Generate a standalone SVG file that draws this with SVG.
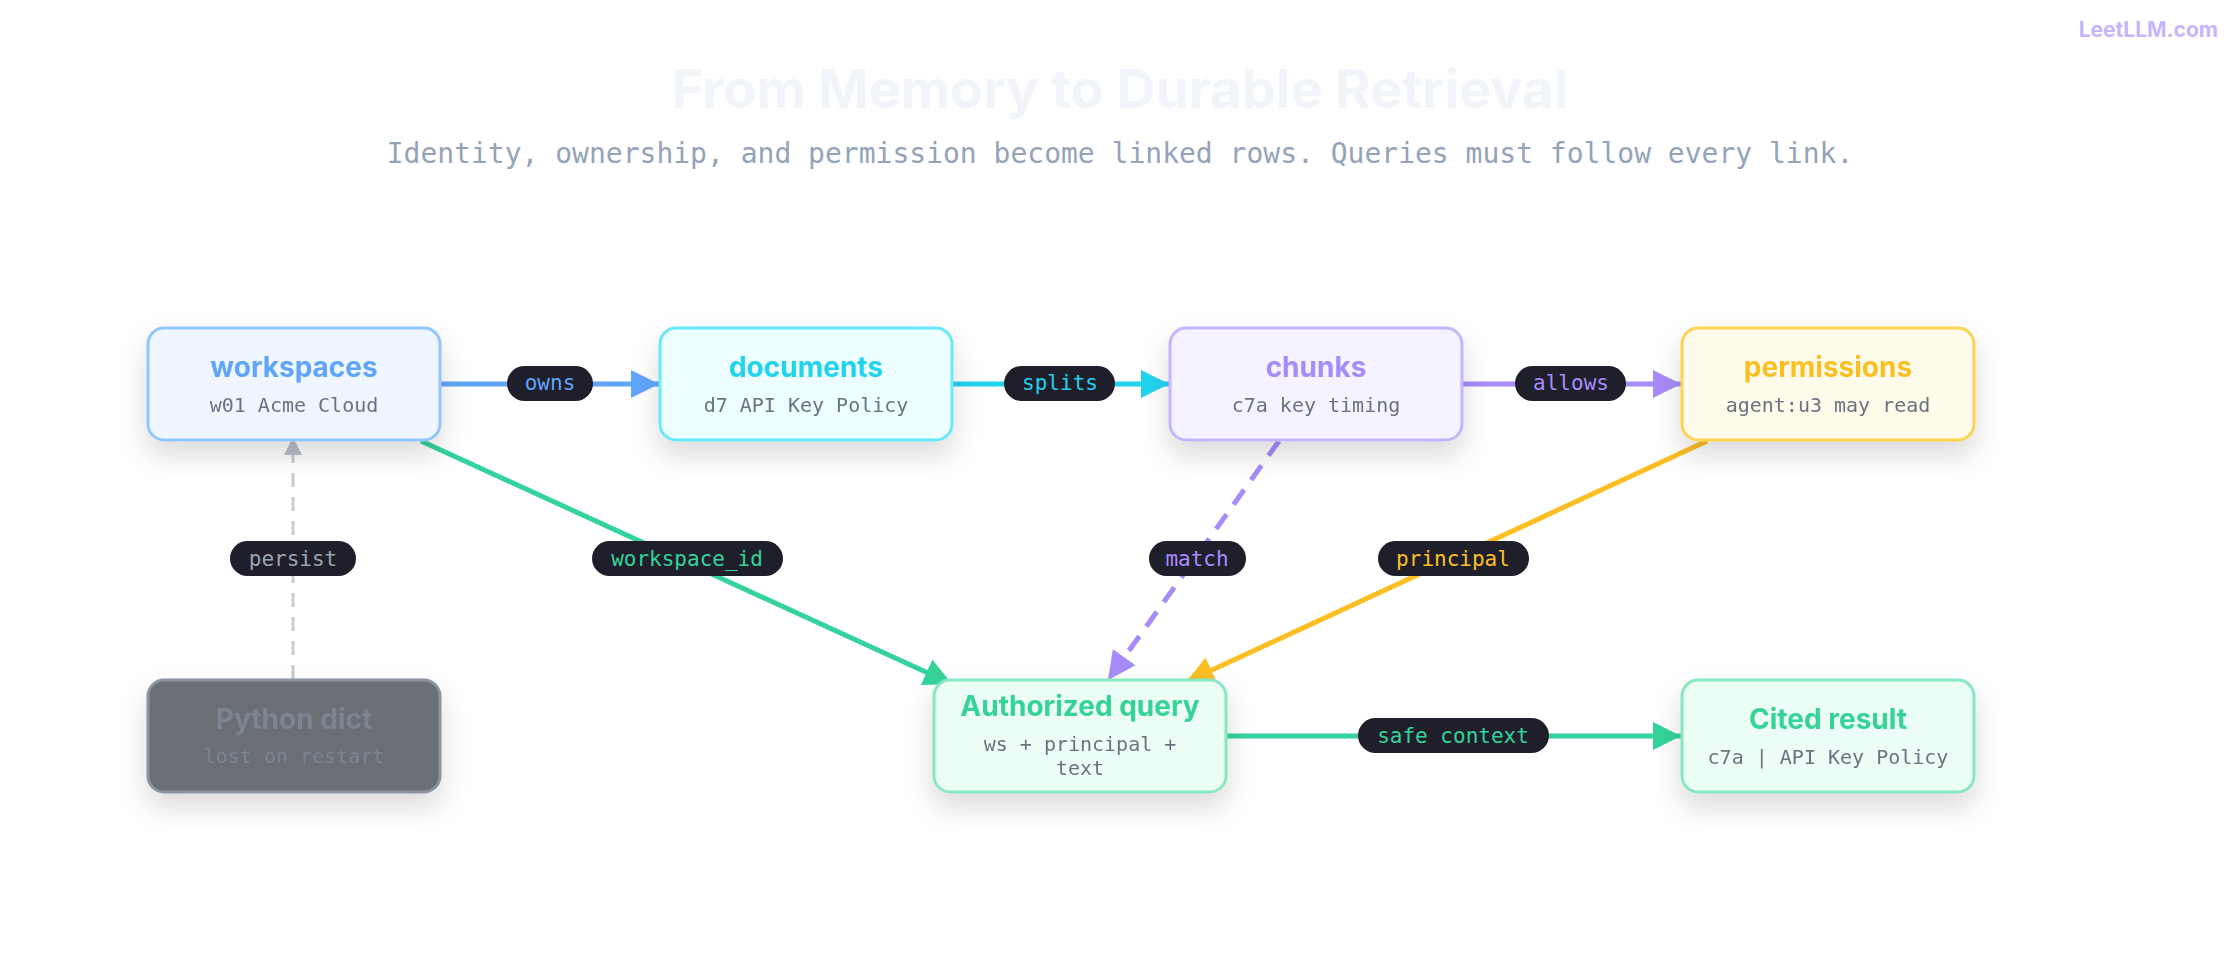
<svg xmlns="http://www.w3.org/2000/svg" width="2240" height="960" viewBox="0 0 2240 960">
<style>
.t{font-family:Inter,"Noto Sans",sans-serif;font-weight:700;font-size:28px;text-anchor:middle}
.s{font-family:"DejaVu Sans Mono","Liberation Mono",monospace;font-size:20px;text-anchor:middle;fill:#6b7280}
.l{font-family:"DejaVu Sans Mono","Liberation Mono",monospace;font-size:21px;text-anchor:middle}
.p{fill:#1e1f2b}
.e{fill:none;stroke-width:5}
</style>
<defs>
<filter id="sh" x="-30%" y="-30%" width="160%" height="180%"><feDropShadow dx="0" dy="14" stdDeviation="14" flood-color="#000" flood-opacity="0.14"/></filter>
<marker id="mb" markerUnits="userSpaceOnUse" markerWidth="30" markerHeight="30" refX="28" refY="14" orient="auto"><path d="M0,0L28,14L0,28z" fill="#60a5fa"/></marker>
<marker id="mc" markerUnits="userSpaceOnUse" markerWidth="30" markerHeight="30" refX="28" refY="14" orient="auto"><path d="M0,0L28,14L0,28z" fill="#22d3ee"/></marker>
<marker id="mp" markerUnits="userSpaceOnUse" markerWidth="30" markerHeight="30" refX="28" refY="14" orient="auto"><path d="M0,0L28,14L0,28z" fill="#a78bfa"/></marker>
<marker id="mg" markerUnits="userSpaceOnUse" markerWidth="30" markerHeight="30" refX="28" refY="14" orient="auto"><path d="M0,0L28,14L0,28z" fill="#34d399"/></marker>
<marker id="my" markerUnits="userSpaceOnUse" markerWidth="30" markerHeight="30" refX="28" refY="14" orient="auto"><path d="M0,0L28,14L0,28z" fill="#fbbf24"/></marker>
<marker id="mx" markerUnits="userSpaceOnUse" markerWidth="20" markerHeight="20" refX="18" refY="9" orient="auto"><path d="M0,0L18,9L0,18z" fill="#b8bec9"/></marker>
</defs>
<rect width="2240" height="960" fill="#fff"/>
<text x="1120" y="108" font-family="Inter,'Noto Sans',sans-serif" font-weight="700" font-size="54" fill="#f1f5f9" text-anchor="middle">From Memory to Durable Retrieval</text>
<text x="1120" y="163" font-family="'DejaVu Sans Mono','Liberation Mono',monospace" font-size="28" fill="#94a3b8" text-anchor="middle">Identity, ownership, and permission become linked rows. Queries must follow every link.</text>
<text x="2218" y="37" font-family="Inter,'Noto Sans',sans-serif" font-weight="700" font-size="21" fill="#c4b5fd" text-anchor="end">LeetLLM.com</text>

<g id="connectors">
<path class="e" d="M440,384H659" stroke="#60a5fa" marker-end="url(#mb)"/>
<path class="e" d="M953,384H1169" stroke="#22d3ee" marker-end="url(#mc)"/>
<path class="e" d="M1463,384H1681" stroke="#a78bfa" marker-end="url(#mp)"/>
<path class="e" d="M421,441L952,684" stroke="#34d399" marker-end="url(#mg)"/>
<path class="e" d="M1279,441L1108,680" stroke="#a78bfa" stroke-dasharray="18,12" marker-end="url(#mp)"/>
<path class="e" d="M1707,441L1186,682" stroke="#fbbf24" marker-end="url(#my)"/>
<path class="e" d="M1227,736H1681" stroke="#34d399" marker-end="url(#mg)"/>
<path d="M293,679V437" fill="none" stroke="#c5cad3" stroke-width="3" stroke-dasharray="14,10" marker-end="url(#mx)"/>
<rect class="p" x="507" y="366" width="86" height="35" rx="17.5"/><text class="l" x="550" y="390" fill="#60a5fa">owns</text>
<rect class="p" x="1004" y="366" width="111" height="35" rx="17.5"/><text class="l" x="1060" y="390" fill="#22d3ee">splits</text>
<rect class="p" x="1515" y="366" width="111" height="35" rx="17.5"/><text class="l" x="1571" y="390" fill="#a78bfa">allows</text>
<rect class="p" x="230" y="541" width="126" height="35" rx="17.5"/><text class="l" x="293" y="566" fill="#9ca3af">persist</text>
<rect class="p" x="592" y="541" width="191" height="35" rx="17.5"/><text class="l" x="687" y="566" fill="#34d399">workspace_id</text>
<rect class="p" x="1149" y="541" width="97" height="35" rx="17.5"/><text class="l" x="1197" y="566" fill="#a78bfa">match</text>
<rect class="p" x="1378" y="541" width="151" height="35" rx="17.5"/><text class="l" x="1453" y="566" fill="#fbbf24">principal</text>
<rect class="p" x="1358" y="718" width="191" height="35" rx="17.5"/><text class="l" x="1453" y="743" fill="#34d399">safe context</text>
</g>

<g id="workspaces" filter="url(#sh)"><rect x="148" y="328" width="292" height="112" rx="16" fill="#eff6ff" stroke="#93c5fd" stroke-width="3"/><text class="t" x="294" y="377" fill="#60a5fa">workspaces</text><text class="s" x="294" y="412">w01 Acme Cloud</text></g>
<g id="documents" filter="url(#sh)"><rect x="660" y="328" width="292" height="112" rx="16" fill="#ecfeff" stroke="#67e8f9" stroke-width="3"/><text class="t" x="806" y="377" fill="#22d3ee">documents</text><text class="s" x="806" y="412">d7 API Key Policy</text></g>
<g id="chunks" filter="url(#sh)"><rect x="1170" y="328" width="292" height="112" rx="16" fill="#f5f3ff" stroke="#c4b5fd" stroke-width="3"/><text class="t" x="1316" y="377" fill="#a78bfa">chunks</text><text class="s" x="1316" y="412">c7a key timing</text></g>
<g id="permissions" filter="url(#sh)"><rect x="1682" y="328" width="292" height="112" rx="16" fill="#fffbeb" stroke="#fcd34d" stroke-width="3"/><text class="t" x="1828" y="377" fill="#fbbf24">permissions</text><text class="s" x="1828" y="412">agent:u3 may read</text></g>
<g id="python-dict" filter="url(#sh)"><rect x="148" y="680" width="292" height="112" rx="16" fill="#6b6e74" stroke="#8b93a1" stroke-width="3"/><text class="t" x="294" y="729" style="fill:#7b8494">Python dict</text><text class="s" x="294" y="763" style="fill:#7b8494">lost on restart</text></g>
<g id="authorized-query" filter="url(#sh)"><rect x="934" y="680" width="292" height="112" rx="16" fill="#ecfdf5" stroke="#86e8bf" stroke-width="3"/><text class="t" x="1080" y="716" fill="#34d399">Authorized query</text><text class="s" x="1080" y="751">ws + principal +</text><text class="s" x="1080" y="775">text</text></g>
<g id="cited-result" filter="url(#sh)"><rect x="1682" y="680" width="292" height="112" rx="16" fill="#ecfdf5" stroke="#86e8bf" stroke-width="3"/><text class="t" x="1828" y="729" fill="#34d399">Cited result</text><text class="s" x="1828" y="764">c7a | API Key Policy</text></g>
</svg>
